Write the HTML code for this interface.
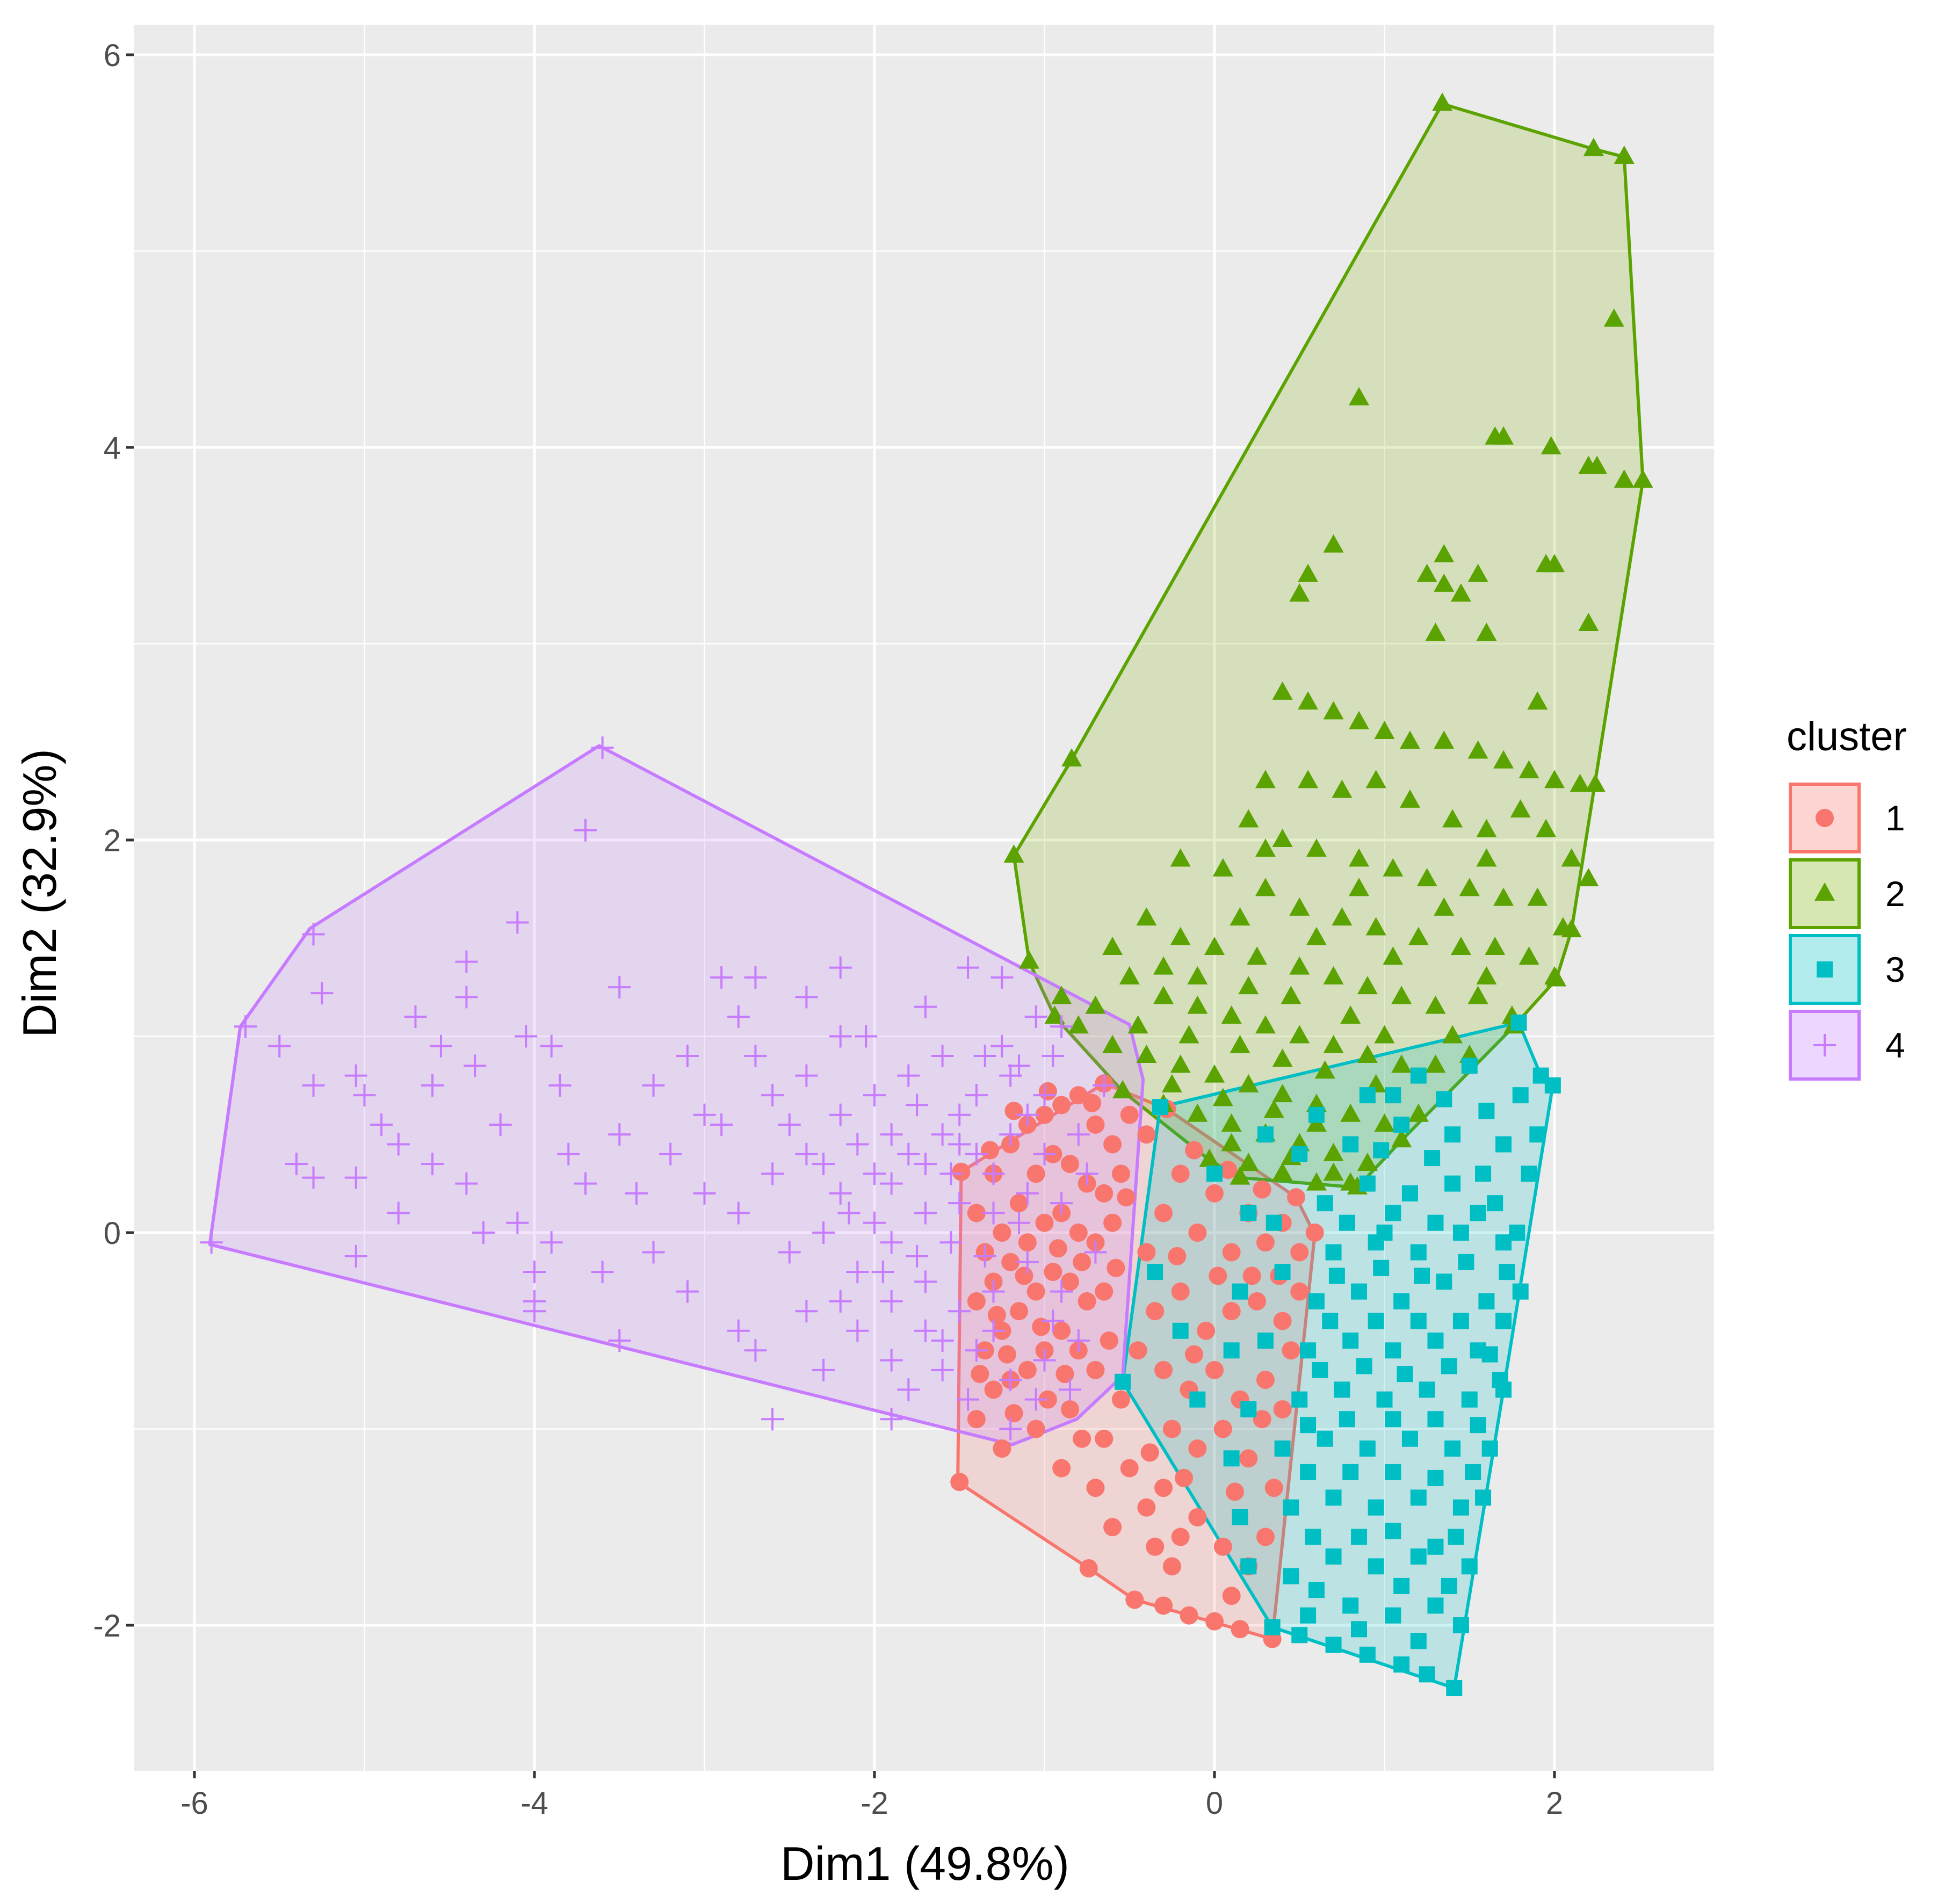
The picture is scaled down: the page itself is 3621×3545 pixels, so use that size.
<!DOCTYPE html>
<html><head><meta charset="utf-8"><style>
html,body{margin:0;padding:0;background:#fff;}
svg{display:block;font-family:"Liberation Sans",sans-serif;}
</style></head><body>
<svg id="chart" width="3621" height="3545" viewBox="0 0 3621 3545" xmlns="http://www.w3.org/2000/svg">
<rect x="0" y="0" width="3621" height="3545" fill="#fff"/>
<rect x="249" y="46" width="2942" height="3251" fill="#EBEBEB"/>
<g id="grid"></g>
<g id="hulls"></g>
<g id="points"></g>
<g id="axes"></g>
<text x="1722" y="3500" font-size="88" text-anchor="middle" fill="#000">Dim1 (49.8%)</text>
<text x="0" y="0" font-size="88" text-anchor="middle" fill="#000" transform="translate(104,1663) rotate(-90)">Dim2 (32.9%)</text>
<g id="legend">
<text x="3326" y="1397" font-size="76" fill="#000">cluster</text>
</g>
</svg>
<script>
const xTicks = [-6, -4, -2, 0, 2];
const xMinor = [-5, -3, -1, 1];
const yTicks = [-2, 0, 2, 4, 6];
const yMinor = [-1, 1, 3, 5];
const clusterNames = ["1", "2", "3", "4"];
const hull1 = [[-1.51,-1.27],[-0.74,-1.71],[-0.47,-1.87],[0.34,-2.07],[0.59,-0.01],[0.48,0.18],[-0.28,0.63],[-0.65,0.76],[-1.49,0.31]];
const hull2 = [[-1.18,1.92],[-1.09,1.38],[-0.94,1.10],[-0.54,0.72],[-0.03,0.37],[0.15,0.28],[0.84,0.23],[1.10,0.47],[1.76,1.05],[2.01,1.29],[2.10,1.54],[2.24,2.30],[2.52,3.83],[2.41,5.48],[2.23,5.52],[1.34,5.75],[-0.84,2.41]];
const hull3 = [[-0.32,0.64],[1.79,1.07],[1.92,0.80],[1.99,0.75],[1.70,-0.80],[1.41,-2.32],[0.34,-2.01],[-0.54,-0.76]];
const hull4 = [[-5.91,-0.06],[-5.73,1.05],[-5.32,1.55],[-3.62,2.48],[-0.50,1.06],[-0.42,0.78],[-0.54,-0.73],[-0.81,-0.95],[-1.19,-1.08]];
const pts1 = [[-1.5,-1.27],[-0.74,-1.71],[-0.47,-1.87],[-0.3,-1.9],[-0.15,-1.95],[0.0,-1.98],[0.15,-2.02],[0.34,-2.07],[0.59,0.0],[0.48,0.18],[-0.28,0.63],[-0.65,0.76],[-1.49,0.31],[-1.4,0.1],[-1.3,0.3],[-1.2,0.45],[-1.1,0.55],[-1.0,0.6],[-0.9,0.65],[-0.8,0.7],[-0.7,0.55],[-0.6,0.45],[-0.5,0.6],[-0.4,0.5],[-1.35,-0.1],[-1.25,0.0],[-1.15,0.15],[-1.05,0.3],[-0.95,0.4],[-0.85,0.35],[-0.75,0.25],[-0.65,0.2],[-0.55,0.3],[-1.4,-0.35],[-1.3,-0.25],[-1.2,-0.15],[-1.1,-0.05],[-1.0,0.05],[-0.9,0.1],[-0.8,0.0],[-0.7,-0.05],[-0.6,0.05],[-1.35,-0.6],[-1.25,-0.5],[-1.15,-0.4],[-1.05,-0.3],[-0.95,-0.2],[-0.85,-0.25],[-0.75,-0.35],[-0.65,-0.3],[-1.3,-0.8],[-1.2,-0.75],[-1.1,-0.7],[-1.0,-0.6],[-0.9,-0.5],[-0.8,-0.6],[-0.7,-0.7],[-1.4,-0.95],[-1.05,-1.0],[-0.85,-0.9],[-0.65,-1.05],[-0.5,-1.2],[-0.4,-1.4],[-0.3,-1.3],[-0.2,-1.55],[-0.1,-1.45],[0.05,-1.6],[-0.25,-1.7],[0.2,-1.7],[-0.4,-0.1],[-0.3,0.1],[-0.2,0.3],[-0.1,0.0],[0.0,0.2],[0.1,-0.1],[0.2,0.1],[0.3,-0.05],[0.4,0.05],[0.5,-0.1],[-0.35,-0.4],[-0.2,-0.3],[-0.05,-0.5],[0.1,-0.4],[0.25,-0.35],[0.4,-0.45],[0.5,-0.3],[-0.3,-0.7],[-0.15,-0.8],[0.0,-0.7],[0.15,-0.85],[0.3,-0.75],[0.45,-0.6],[-0.25,-1.0],[-0.1,-1.1],[0.05,-1.0],[0.2,-1.15],[0.35,-1.3],[-0.45,-0.6],[0.3,-1.55],[-0.55,-0.85],[-0.9,-1.2],[-0.6,-1.5],[-1.32,0.42],[-1.18,0.62],[-0.98,0.72],[-0.72,0.66],[-0.52,0.18],[-1.28,-0.42],[-1.12,-0.22],[-0.92,-0.08],[-0.78,-0.15],[-0.58,-0.18],[-1.22,-0.62],[-1.02,-0.48],[-0.88,-0.72],[-0.62,-0.55],[-1.18,-0.92],[-0.98,-0.85],[-0.78,-1.05],[-0.12,0.42],[0.08,0.32],[0.28,0.22],[-0.22,-0.12],[0.02,-0.22],[0.22,-0.22],[0.38,-0.22],[-0.12,-0.62],[0.28,-0.95],[-0.38,-1.12],[0.12,-1.32],[-0.18,-1.25],[0.4,-0.9],[-1.38,-0.72],[-1.25,-1.1],[-0.7,-1.3],[-0.35,-1.6],[0.1,-1.85]];
const pts2 = [[1.34,5.75],[2.23,5.52],[2.41,5.48],[2.35,4.65],[0.85,4.25],[1.65,4.05],[1.7,4.05],[1.98,4.0],[2.2,3.9],[2.25,3.9],[2.41,3.83],[2.52,3.83],[0.7,3.5],[0.55,3.35],[0.5,3.25],[1.35,3.45],[1.25,3.35],[1.35,3.3],[1.45,3.25],[1.95,3.4],[2.0,3.4],[1.55,3.35],[1.3,3.05],[1.6,3.05],[2.2,3.1],[-0.84,2.41],[-1.18,1.92],[0.4,2.75],[0.55,2.7],[0.7,2.65],[0.85,2.6],[1.0,2.55],[1.15,2.5],[1.35,2.5],[1.55,2.45],[1.7,2.4],[1.85,2.35],[2.0,2.3],[2.15,2.28],[2.24,2.28],[1.9,2.7],[0.3,2.3],[0.55,2.3],[0.75,2.25],[0.95,2.3],[1.15,2.2],[1.4,2.1],[1.6,2.05],[1.8,2.15],[1.95,2.05],[2.1,1.9],[2.2,1.8],[0.2,2.1],[0.4,2.0],[0.6,1.95],[0.85,1.9],[1.05,1.85],[1.25,1.8],[1.5,1.75],[1.7,1.7],[1.9,1.7],[2.05,1.55],[-0.2,1.9],[0.05,1.85],[0.3,1.75],[0.5,1.65],[0.75,1.6],[0.95,1.55],[1.2,1.5],[1.45,1.45],[1.65,1.45],[1.85,1.4],[2.0,1.3],[-0.4,1.6],[-0.2,1.5],[0.0,1.45],[0.25,1.4],[0.5,1.35],[0.7,1.3],[0.9,1.25],[1.1,1.2],[1.3,1.15],[1.55,1.2],[1.75,1.1],[-0.9,1.2],[-0.7,1.15],[-0.5,1.3],[-0.3,1.2],[-0.1,1.15],[0.1,1.1],[0.3,1.05],[0.5,1.0],[0.7,0.95],[0.9,0.9],[1.1,0.85],[1.3,0.85],[1.5,0.9],[-0.6,0.95],[-0.4,0.9],[-0.2,0.85],[0.0,0.8],[0.2,0.75],[0.4,0.7],[0.6,0.65],[0.8,0.6],[1.0,0.55],[1.2,0.6],[-0.3,0.65],[-0.1,0.6],[0.1,0.55],[0.3,0.5],[0.5,0.45],[0.7,0.4],[0.9,0.35],[0.2,0.35],[0.4,0.3],[0.6,0.25],[0.8,0.25],[-0.03,0.37],[0.15,0.28],[0.84,0.23],[1.1,0.47],[1.76,1.05],[2.01,1.29],[2.1,1.54],[-1.09,1.38],[-0.94,1.1],[-0.54,0.72],[-0.8,1.05],[-0.45,1.05],[-0.15,1.0],[0.15,0.95],[0.4,0.88],[0.65,0.82],[0.95,0.75],[-0.25,0.75],[0.05,0.68],[0.35,0.62],[0.6,0.55],[0.1,0.45],[0.45,0.38],[0.7,0.3],[-0.1,1.3],[0.2,1.25],[0.45,1.2],[0.8,1.1],[1.0,1.0],[1.4,1.0],[-0.6,1.45],[-0.3,1.35],[0.6,1.5],[1.05,1.4],[1.6,1.3],[0.15,1.6],[0.85,1.75],[1.35,1.65],[0.3,1.95],[1.6,1.9]];
const pts3 = [[-0.32,0.64],[1.79,1.07],[1.92,0.8],[1.99,0.75],[1.7,-0.8],[1.41,-2.32],[0.34,-2.01],[-0.54,-0.76],[0.5,-2.05],[0.7,-2.1],[0.9,-2.15],[1.1,-2.2],[1.25,-2.25],[0.6,0.6],[0.9,0.7],[1.2,0.8],[1.5,0.85],[1.8,0.7],[0.3,0.5],[0.5,0.4],[0.8,0.45],[1.1,0.55],[1.4,0.5],[1.7,0.45],[1.9,0.5],[0.65,0.15],[0.9,0.25],[1.15,0.2],[1.4,0.25],[1.65,0.15],[1.85,0.3],[0.7,-0.1],[0.95,-0.05],[1.2,-0.1],[1.45,0.0],[1.7,-0.05],[0.6,-0.35],[0.85,-0.3],[1.1,-0.35],[1.35,-0.25],[1.6,-0.35],[1.8,-0.3],[0.15,-0.3],[-0.2,-0.5],[0.3,-0.55],[0.55,-0.6],[0.8,-0.55],[1.05,-0.6],[1.3,-0.55],[1.55,-0.6],[-0.1,-0.85],[0.2,-0.9],[0.5,-0.85],[0.75,-0.8],[1.0,-0.85],[1.25,-0.8],[1.5,-0.85],[1.68,-0.75],[0.1,-1.15],[0.4,-1.1],[0.65,-1.05],[0.9,-1.1],[1.15,-1.05],[1.4,-1.1],[1.62,-1.1],[0.15,-1.45],[0.45,-1.4],[0.7,-1.35],[0.95,-1.4],[1.2,-1.35],[1.45,-1.4],[1.58,-1.35],[0.2,-1.7],[0.45,-1.75],[0.7,-1.65],[0.95,-1.7],[1.2,-1.65],[1.5,-1.7],[0.55,-1.95],[0.8,-1.9],[1.05,-1.95],[1.3,-1.9],[1.45,-2.0],[0.0,0.3],[0.2,0.1],[0.4,-0.2],[0.1,-0.6],[-0.35,-0.2],[0.35,0.05],[1.0,0.0],[1.3,-1.6],[0.85,-1.55],[0.78,0.05],[1.05,0.1],[1.3,0.05],[1.55,0.1],[1.78,0.0],[0.72,-0.22],[0.98,-0.18],[1.22,-0.22],[1.48,-0.15],[1.72,-0.2],[0.68,-0.45],[0.95,-0.45],[1.2,-0.45],[1.45,-0.45],[1.7,-0.45],[0.62,-0.7],[0.88,-0.68],[1.12,-0.72],[1.38,-0.68],[1.62,-0.62],[0.55,-0.98],[0.78,-0.95],[1.05,-0.95],[1.3,-0.95],[1.55,-0.98],[0.55,-1.22],[0.8,-1.22],[1.05,-1.22],[1.3,-1.25],[1.52,-1.22],[0.58,-1.55],[1.05,-1.52],[1.42,-1.55],[0.6,-1.82],[1.1,-1.8],[1.38,-1.8],[0.85,-2.02],[1.2,-2.08],[0.98,0.42],[1.28,0.38],[1.58,0.3],[1.6,0.62],[1.35,0.68],[1.05,0.7]];
const pts4 = [[-5.9,-0.05],[-5.7,1.05],[-5.3,1.52],[-3.6,2.47],[-3.7,2.05],[-5.25,1.22],[-5.5,0.95],[-5.3,0.75],[-5.05,0.8],[-4.9,0.55],[-5.4,0.35],[-5.3,0.28],[-5.05,0.28],[-4.7,1.1],[-4.4,1.2],[-4.55,0.95],[-4.1,1.58],[-4.4,1.38],[-3.5,1.25],[-4.05,1.0],[-3.9,0.95],[-4.35,0.85],[-4.6,0.75],[-3.85,0.75],[-4.2,0.55],[-4.6,0.35],[-4.4,0.25],[-4.8,0.1],[-5.05,-0.12],[-4.1,0.05],[-4.0,-0.2],[-3.9,-0.05],[-4.0,-0.35],[-3.6,-0.2],[-3.7,0.25],[-3.8,0.4],[-3.5,0.5],[-3.3,0.75],[-3.1,0.9],[-2.8,1.1],[-2.7,1.3],[-2.2,1.35],[-2.9,1.3],[-2.4,1.2],[-2.05,1.0],[-1.45,1.35],[-1.25,1.3],[-1.7,1.15],[-1.25,0.95],[-0.9,1.05],[-3.2,0.4],[-3.0,0.2],[-3.3,-0.1],[-3.1,-0.3],[-2.8,-0.5],[-2.9,0.55],[-2.6,0.7],[-2.4,0.8],[-2.2,0.6],[-2.0,0.7],[-1.8,0.8],[-1.6,0.9],[-1.4,0.7],[-1.2,0.8],[-1.0,0.7],[-2.6,0.3],[-2.4,0.4],[-2.2,0.2],[-2.0,0.3],[-1.8,0.4],[-1.6,0.5],[-1.4,0.4],[-1.2,0.5],[-1.0,0.4],[-0.8,0.5],[-2.5,-0.1],[-2.3,0.0],[-2.1,-0.2],[-1.9,-0.05],[-1.7,0.1],[-1.5,0.15],[-1.3,0.1],[-1.1,0.2],[-0.9,0.15],[-2.4,-0.4],[-2.1,-0.5],[-1.9,-0.35],[-1.7,-0.25],[-1.5,-0.4],[-1.3,-0.3],[-1.1,-0.15],[-0.9,-0.3],[-0.7,-0.1],[-2.3,-0.7],[-1.9,-0.65],[-1.6,-0.7],[-1.4,-0.6],[-1.2,-0.75],[-1.0,-0.65],[-0.8,-0.55],[-1.9,-0.95],[-1.2,-1.0],[-2.7,-0.6],[-2.6,-0.95],[-3.5,-0.55],[-4.0,-0.4],[-4.3,0.0],[-5.0,0.7],[-4.8,0.45],[-2.2,1.0],[-1.9,0.5],[-1.7,-0.5],[-1.5,0.6],[-1.3,-0.5],[-1.1,0.6],[-0.95,-0.45],[-0.75,0.3],[-0.65,0.75],[-1.05,1.1],[-1.55,0.3],[-2.0,0.05],[-2.2,-0.35],[-1.75,0.65],[-2.5,0.55],[-2.3,0.35],[-2.1,0.45],[-1.9,0.25],[-1.7,0.35],[-1.5,0.45],[-1.3,0.3],[-1.15,0.05],[-1.35,-0.12],[-1.55,-0.05],[-1.75,-0.12],[-1.95,-0.2],[-2.15,0.1],[-1.6,-0.55],[-1.8,-0.8],[-1.45,-0.85],[-1.05,-0.85],[-0.85,-0.8],[-0.95,0.9],[-1.15,0.85],[-1.35,0.9],[-2.7,0.9],[-3.0,0.6],[-2.8,0.1],[-3.4,0.2]];

const NS = "http://www.w3.org/2000/svg";
const PL = 249, PR = 3191, PT = 46, PB = 3297;
const X0 = 2261, XS = 316.5, Y0 = 2295, YS = 365.5;
function sx(v){ return X0 + XS * v; }
function sy(v){ return Y0 - YS * v; }
function mk(tag, attrs, parent){ const e = document.createElementNS(NS, tag); for (const k in attrs) e.setAttribute(k, attrs[k]); parent.appendChild(e); return e; }

const colors = ["#F8766D", "#7CAE00", "#00BFC4", "#C77CFF"];
const ptColors = ["#F8766D", "#5BA300", "#00BFC4", "#C77CFF"];
const grid = document.getElementById('grid');
xMinor.forEach(v => { const l = mk('line', {x1:sx(v), x2:sx(v), y1:PT, y2:PB, stroke:'#fff', 'stroke-width':2.5}, grid);
  
   });
yMinor.forEach(v => { const l = mk('line', {x1:PL, x2:PR, y1:sy(v), y2:sy(v), stroke:'#fff', 'stroke-width':2.5}, grid);
  
   });
xTicks.forEach(v => { const l = mk('line', {x1:sx(v), x2:sx(v), y1:PT, y2:PB, stroke:'#fff', 'stroke-width':5}, grid);
  
   });
yTicks.forEach(v => { const l = mk('line', {x1:PL, x2:PR, y1:sy(v), y2:sy(v), stroke:'#fff', 'stroke-width':5}, grid);
  
   });

const hullsG = document.getElementById('hulls');
[hull1, hull2, hull3, hull4].forEach((h, i) => {
  const p = mk('polygon', {points: h.map(q => sx(q[0]) + ',' + sy(q[1])).join(' '), fill: colors[i], 'fill-opacity': 0.2, stroke: ptColors[i], 'stroke-width': 6, 'stroke-linejoin':'round'}, hullsG);
  
  
});

const ptsG = document.getElementById('points');
function marker(kind, cx, cy, col, g){
  let e;
  if (kind === 0) e = mk('circle', {cx:cx, cy:cy, r:17, fill:col}, g);
  else if (kind === 1) e = mk('polygon', {points:(cx)+','+(cy-21)+' '+(cx-19)+','+(cy+13)+' '+(cx+19)+','+(cy+13), fill:col}, g);
  else if (kind === 2) e = mk('rect', {x:cx-15, y:cy-15, width:30, height:30, fill:col}, g);
  else e = mk('path', {d:'M'+(cx-21)+' '+cy+'H'+(cx+21)+'M'+cx+' '+(cy-21)+'V'+(cy+21), stroke:col, 'stroke-width':4, fill:'none'}, g);
  return e;
}
[pts1, pts2, pts3, pts4].forEach((arr, i) => {
  const g = mk('g', {}, ptsG);
  
  
  arr.forEach(q => {
    const e = marker(i, sx(q[0]), sy(q[1]), ptColors[i], g);
    
    
  });
});

const axes = document.getElementById('axes');
xTicks.forEach(v => {
  const t = mk('line', {x1:sx(v), x2:sx(v), y1:PB, y2:PB+14, stroke:'#333', 'stroke-width':5}, axes);
  
  
  const l = mk('text', {x:sx(v), y:PB+80, 'font-size':58, 'text-anchor':'middle', fill:'#4D4D4D'}, axes);
  l.textContent = String(v);
  
  
});
yTicks.forEach(v => {
  const t = mk('line', {x1:PL-14, x2:PL, y1:sy(v), y2:sy(v), stroke:'#333', 'stroke-width':5}, axes);
  
  
  const l = mk('text', {x:PL-24, y:sy(v)+21, 'font-size':58, 'text-anchor':'end', fill:'#4D4D4D'}, axes);
  l.textContent = String(v);
  
  
});

const legend = document.getElementById('legend');
clusterNames.forEach((n, i) => {
  const y = 1460 + i * 141;
  const g = mk('g', {}, legend);
  
  
  mk('rect', {x:3333, y:y, width:128, height:126, fill:'#fff'}, g);
  mk('rect', {x:3333, y:y, width:128, height:126, fill:colors[i], 'fill-opacity':0.3, stroke:ptColors[i], 'stroke-width':6}, g);
  marker(i, 3397, y + 63, ptColors[i], g);
  const t = mk('text', {x:3510, y:y + 86, 'font-size':66, fill:'#000'}, g);
  t.textContent = n;
});
</script>
</body></html>
